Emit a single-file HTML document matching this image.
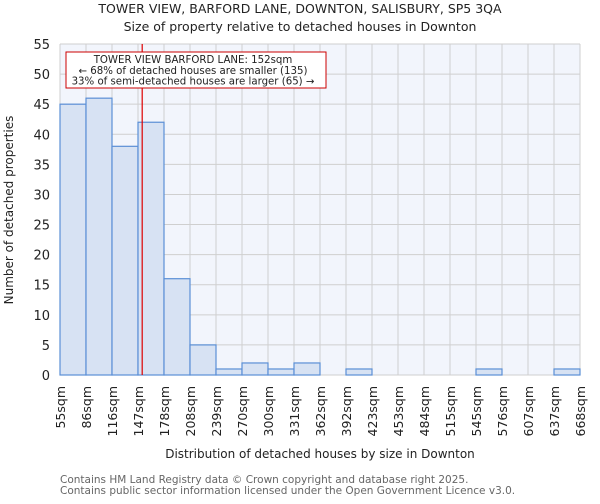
<!DOCTYPE html>
<html><head><meta charset="utf-8"><style>
body{margin:0;background:#fff;font-family:"DejaVu Sans","Liberation Sans",sans-serif;}
svg text{font-family:"DejaVu Sans","Liberation Sans",sans-serif;}
</style></head><body>
<svg id="chart" width="600" height="500" xmlns="http://www.w3.org/2000/svg">
<text x="300" y="13" text-anchor="middle" font-size="12.5" fill="#222">TOWER VIEW, BARFORD LANE, DOWNTON, SALISBURY, SP5 3QA</text>
<text x="300" y="31" text-anchor="middle" font-size="12.5" fill="#222">Size of property relative to detached houses in Downton</text>
<rect x="60" y="44" width="520" height="331" fill="#f2f5fc"/>
<g id="grid"></g>
<g id="bars"></g>
<g id="yticks"></g>
<g id="xticks"></g>
<line id="marker" stroke="#d00" stroke-width="1.2"/>
<g>
<rect x="66" y="52" width="260" height="36" fill="#fff" stroke="#c00" stroke-width="1"/>
<text x="193" y="63" text-anchor="middle" font-size="10.2" fill="#222">TOWER VIEW BARFORD LANE: 152sqm</text>
<text x="193" y="74" text-anchor="middle" font-size="10.2" fill="#222">← 68% of detached houses are smaller (135)</text>
<text x="193" y="84.5" text-anchor="middle" font-size="10.2" fill="#222">33% of semi-detached houses are larger (65) →</text>
</g>
<text transform="translate(13,210) rotate(-90)" text-anchor="middle" font-size="12" fill="#222">Number of detached properties</text>
<text x="320" y="458" text-anchor="middle" font-size="12" fill="#222">Distribution of detached houses by size in Downton</text>
<text x="60" y="483" font-size="10.5" fill="#666">Contains HM Land Registry data © Crown copyright and database right 2025.</text>
<text x="60" y="494" font-size="10.5" fill="#666">Contains public sector information licensed under the Open Government Licence v3.0.</text>
</svg>
<script>
const binEdges=["55sqm","86sqm","116sqm","147sqm","178sqm","208sqm","239sqm","270sqm","300sqm","331sqm","362sqm","392sqm","423sqm","453sqm","484sqm","515sqm","545sqm","576sqm","607sqm","637sqm","668sqm"];
const counts=[45,46,38,42,16,5,1,2,1,2,0,1,0,0,0,0,1,0,0,1];
const yTicks=[0,5,10,15,20,25,30,35,40,45,50,55];
const edgeValues=[55,86,116,147,178,208,239,270,300,331,362,392,423,453,484,515,545,576,607,637,668];
const markerValue=152;
const NS="http://www.w3.org/2000/svg";
const X0=60,X1=580,Y0=375,Y1=44,YMAX=55;
const bw=(X1-X0)/counts.length;
function xi(i){return X0+i*bw;}
function y(v){return Y0-(v/YMAX)*(Y0-Y1);}
function xv(v){let i=0;while(i<edgeValues.length-2&&v>edgeValues[i+1])i++;return xi(i)+bw*(v-edgeValues[i])/(edgeValues[i+1]-edgeValues[i]);}
function mk(t,a,p){const e=document.createElementNS(NS,t);for(const k in a)e.setAttribute(k,a[k]);p.appendChild(e);return e;}
const grid=document.getElementById('grid'),bars=document.getElementById('bars'),yt=document.getElementById('yticks'),xt=document.getElementById('xticks');
yTicks.forEach(v=>{
 const l=mk('line',{x1:X0,x2:X1,y1:y(v),y2:y(v),stroke:'#cfcfcf','stroke-width':1},grid);
 
 
 const t=mk('text',{x:50,y:y(v)+5,'text-anchor':'end','font-size':13,fill:'#222'},yt);
 t.textContent=v;
 
 
});
binEdges.forEach((lab,i)=>{
 const l=mk('line',{x1:xi(i),x2:xi(i),y1:Y1,y2:Y0,stroke:'#cfcfcf','stroke-width':1},grid);
 
 
 const t=mk('text',{transform:`translate(${xi(i)+5},386) rotate(-90)`,'text-anchor':'end','font-size':12.5,fill:'#222'},xt);
 t.textContent=lab;
 
 
});
counts.forEach((c,i)=>{
 if(c<=0)return;
 const r=mk('rect',{x:xi(i),y:y(c),width:bw,height:Y0-y(c),fill:'#d7e2f3',stroke:'#5b8fd6','stroke-width':1.2},bars);
 
 
});
const m=document.getElementById('marker');
const mx=xv(markerValue);
m.setAttribute('x1',mx);m.setAttribute('x2',mx);m.setAttribute('y1',Y1);m.setAttribute('y2',Y0);
</script>
</body></html>
